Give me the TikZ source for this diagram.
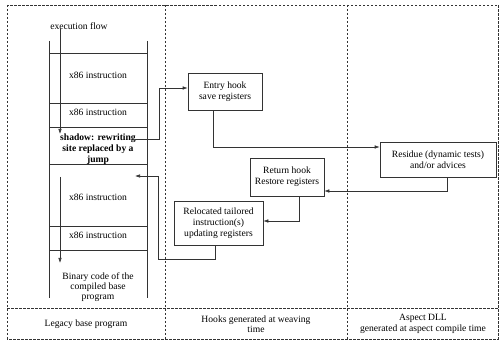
\documentclass[tikz,border=0pt]{standalone}
\usepackage{fontspec}
\setmainfont{Liberation Serif}
\usepackage{tikz}
\usetikzlibrary{arrows.meta}
\colorlet{strokeGray}{black!80}

\begin{document}
\begin{tikzpicture}[
  x=1pt,
  y=-1pt,
  font=\fontsize{9.6}{11}\selectfont,
  every node/.style={
    align=center,
    inner sep=1pt,
  },
  frame/.style={
    draw=strokeGray,
    line width=0.6pt,
    dash pattern=on 2.5pt off 1.5pt,
  },
  stack/.style={
    draw=strokeGray,
    line width=0.6pt,
  },
  hook box/.style={
    draw=strokeGray,
    line width=0.6pt,
  },
  link/.style={
    draw=strokeGray,
    line width=0.6pt,
    -{Latex[length=5pt,width=3.5pt]},
  },
  column label/.style={
    font=\fontsize{9.6}{10.5}\selectfont,
  },
]
\useasboundingbox (0,0) rectangle (499,342);
% frame and columns
\draw[frame] (7,5) rectangle (498,339);
\draw[frame] (165,5) -- (165,339);
\draw[frame] (347,5) -- (347,339);
\draw[frame] (7,308) -- (498,308);
% code stack
\draw[stack] (49,41) -- (49,298);
\draw[stack] (147,41) -- (147,298);
\foreach \y in {53,103,127,164,226,250}
  \draw[stack] (49,\y) -- (147,\y);
\node (flow) at (79,26) {execution flow};
\node (ins1) at (98,75) {x86 instruction};
\node (ins2) at (98,112) {x86 instruction};
\node[font=\fontsize{9.6}{11}\selectfont\bfseries] (shadow) at (98,149)
  {shadow: rewriting\\site replaced by a\\jump};
\node (ins3) at (98,197) {x86 instruction};
\node (ins4) at (98,235) {x86 instruction};
\node[font=\fontsize{9.6}{10.2}\selectfont] (binary) at (98,287)
  {Binary code of the\\compiled base\\program};
\coordinate (flowTop) at (60,29);
\coordinate (flowJump) at (60,134);
\coordinate (flowBack) at (60,177);
\coordinate (flowEnd) at (60,263);
\draw[link] (flowTop) -- (flowJump);
\draw[link] (flowBack) -- (flowEnd);
% hooks
\node[hook box,minimum width=74pt,minimum height=37pt] (entry) at (225,91.5)
  {Entry hook\\save registers};
\node[hook box,minimum width=116pt,minimum height=35pt] (residue) at (438,159.5)
  {Residue (dynamic tests)\\and/or advices};
\node[hook box,minimum width=74pt,minimum height=38pt] (return) at (287,177)
  {Return hook\\Restore registers};
\node[hook box,minimum width=89pt,minimum height=44pt] (relocated) at (218.5,223)
  {Relocated tailored\\instruction(s)\\updating registers};
% connectors
\coordinate (jumpOut) at (135,139);
\coordinate (jumpBack) at (135,176);
\draw[link] (jumpOut) -- (159,139) |- ([yshift=3.5pt]entry.west);
\draw[link] ([xshift=-12pt]entry.south) |- ([yshift=12.5pt]residue.west);
\draw[link] ([xshift=9pt]residue.south) |- ([yshift=-14pt]return.east);
\draw[link] ([xshift=12pt]return.south) |- ([yshift=2pt]relocated.east);
\draw[link] ([xshift=-3.5pt]relocated.south) -- ++(0,14) -| (158,176) -- (jumpBack);
% column labels
\node[column label] (legacy) at (86,324) {Legacy base program};
\node[column label] (weaving) at (256,324) {Hooks generated at weaving\\time};
\node[column label] (aspect) at (423,324) {Aspect DLL\\generated at aspect compile time};
\end{tikzpicture}
\end{document}
